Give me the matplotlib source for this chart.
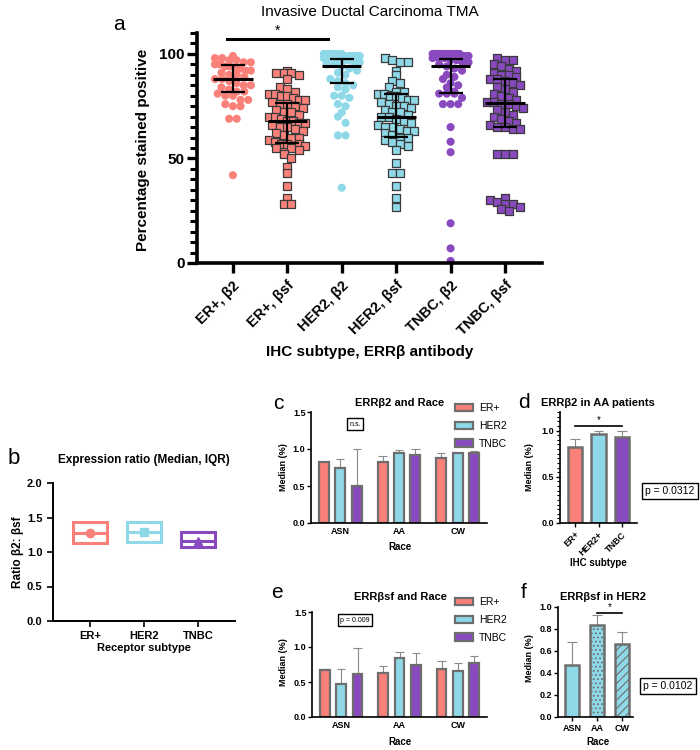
import numpy as np
import matplotlib
matplotlib.use('Agg')
import matplotlib.pyplot as plt
from matplotlib.ticker import MultipleLocator

plt.rcParams['font.family'] = ['Liberation Sans', 'DejaVu Sans']

# ---- panel a data (percentage stained positive) ----
groups_a = ['ER+, β2', 'ER+, βsf', 'HER2, β2', 'HER2, βsf', 'TNBC, β2', 'TNBC, βsf']
er_b2 = [99, 98, 98, 97, 97, 96, 96, 95, 95, 94, 94, 93, 93, 92, 92, 91, 90, 90, 89, 88,
         88, 87, 86, 85, 85, 84, 83, 82, 82, 81, 80, 80, 78, 78, 76, 75, 75, 69, 69, 42]
er_bsf = [92, 91, 91, 91, 90, 88, 84, 83, 82, 81, 81, 80, 80, 79, 78, 78, 77, 76, 76, 75,
          74, 73, 72, 72, 71, 70, 70, 69, 68, 68, 67, 67, 66, 65, 65, 64, 63, 62, 61, 60,
          60, 59, 58, 57, 57, 56, 57, 56, 55, 53, 55, 54, 52, 50, 46, 43, 37, 31, 28, 28]
her2_b2 = [100, 100, 100, 100, 100, 100, 99, 99, 99, 99, 99, 98, 98, 98, 97, 97, 97, 96, 96,
           95, 95, 94, 93, 92, 91, 90, 88, 87, 86, 85, 84, 83, 80, 80, 79, 76, 75, 72, 70,
           67, 61, 61, 36]
her2_bsf = [98, 97, 96, 96, 92, 90, 87, 86, 84, 82, 82, 81, 81, 80, 80, 79, 78, 78, 77, 76,
            75, 75, 74, 73, 72, 72, 71, 70, 70, 69, 68, 67, 66, 65, 65, 64, 63, 63, 62, 61,
            60, 60, 59, 58, 57, 56, 54, 48, 43, 43, 37, 31, 27]
tnbc_b2 = [100, 100, 100, 100, 100, 100, 100, 100, 100, 100, 99, 99, 99, 98, 98, 98, 97, 97,
           96, 96, 95, 94, 93, 92, 90, 89, 88, 86, 85, 84, 82, 81, 81, 81, 79, 76, 76, 76,
           65, 58, 53, 19, 7, 1]
tnbc_bsf = [98, 97, 97, 95, 94, 93, 92, 91, 90, 90, 89, 88, 88, 87, 86, 85, 84, 83, 82, 81,
            80, 79, 78, 77, 77, 76, 76, 75, 74, 73, 72, 71, 70, 69, 68, 67, 66, 65, 65, 64,
            64, 52, 52, 52, 31, 30, 29, 28, 28, 27, 26, 25]
med_a = [88, 68, 94, 70, 94, 76.5]
q1_a = [82, 57.5, 86, 60.5, 81.5, 65]
q3_a = [94.5, 76.5, 97.5, 81, 97.5, 88]

# ---- panel b data (ratio b2 : bsf) ----
ratio_cats = ['ER+', 'HER2', 'TNBC']
ratio_med = [1.27, 1.29, 1.16]
ratio_q1 = [1.13, 1.14, 1.07]
ratio_q3 = [1.43, 1.43, 1.29]

# ---- panels c / e data (median by race) ----
races = ['ASN', 'AA', 'CW']
subtypes = ['ER+', 'HER2', 'TNBC']
c_er, c_er_up = [0.82, 0.82, 0.88], [0.82, 0.91, 0.94]
c_her2, c_her2_up = [0.74, 0.95, 0.94], [0.87, 0.98, 0.95]
c_tnbc, c_tnbc_up = [0.50, 0.92, 0.94], [1.00, 1.00, 0.97]
e_er, e_er_up = [0.67, 0.63, 0.69], [0.68, 0.73, 0.80]
e_her2, e_her2_up = [0.47, 0.84, 0.66], [0.68, 0.93, 0.77]
e_tnbc, e_tnbc_up = [0.61, 0.75, 0.77], [0.98, 0.91, 0.87]

# ---- panel d / f data ----
d_cats = ['ER+', 'HER2+', 'TNBC']
d_vals, d_up = [0.82, 0.96, 0.93], [0.91, 0.99, 1.00]
f_cats = ['ASN', 'AA', 'CW']
f_vals, f_up = [0.47, 0.84, 0.66], [0.68, 0.93, 0.77]

RED = '#F9817A'
BLUE = '#8ED8E8'
PURP = '#8A4ABF'
GRAY = '#6e6e6e'

W, H = 700, 750
fig = plt.figure(figsize=(7, 7.5), dpi=100)


def add_ax(l, t, r, b):
    return fig.add_axes([l / W, 1 - b / H, (r - l) / W, (b - t) / H])


def ftext(x, y, s, **kw):
    return fig.text(x / W, 1 - y / H, s, **kw)


def swarm(vals, center, step, binw, maxw):
    v = np.asarray(vals, float)
    bins = np.round(v / binw)
    xs = np.empty_like(v)
    for b in np.unique(bins):
        idx = np.where(bins == b)[0]
        n = len(idx)
        s = min(step, maxw / (n - 1)) if n > 1 else step
        xs[idx] = center + (np.arange(n) - (n - 1) / 2) * s
    return xs


def style(ax, lw=1.2):
    for sp in ['top', 'right']:
        ax.spines[sp].set_visible(False)
    for sp in ['left', 'bottom']:
        ax.spines[sp].set_linewidth(lw)


# ================= panel a =================
ax = add_ax(197, 33, 542, 263)
style(ax, 2.6)
data_a = [er_b2, er_bsf, her2_b2, her2_bsf, tnbc_b2, tnbc_bsf]
cols_a = [RED, RED, BLUE, BLUE, PURP, PURP]
for i, vals in enumerate(data_a):
    xs = swarm(vals, i, 0.14, 3.6, 0.66)
    if i % 2 == 0:
        ax.scatter(xs, vals, s=34, color=cols_a[i], edgecolor='none', zorder=2)
    else:
        ax.scatter(xs, vals, s=40, marker='s', color=cols_a[i],
                   edgecolor='#3a3a3a', linewidth=0.9, zorder=2)
    ax.hlines(med_a[i], i - 0.36, i + 0.36, color='black', lw=2.2, zorder=3)
    ax.vlines(i, q1_a[i], q3_a[i], color='black', lw=1.6, zorder=3)
    ax.hlines([q1_a[i], q3_a[i]], i - 0.22, i + 0.22, color='black', lw=1.6, zorder=3)
ax.set_xlim(-0.66, 5.68)
ax.set_ylim(0, 110)
ax.yaxis.set_major_locator(MultipleLocator(50))
ax.yaxis.set_minor_locator(MultipleLocator(5))
ax.tick_params(axis='y', which='major', length=7, width=2.4, labelsize=11, pad=2)
ax.tick_params(axis='y', which='minor', length=5, width=2.2)
ax.tick_params(axis='x', length=7, width=2.4, labelsize=10.5, pad=4)
ax.set_xticks(range(6))
ax.set_xticklabels(groups_a, rotation=45, ha='right', rotation_mode='anchor', fontweight='bold')
for lab in ax.get_yticklabels():
    lab.set_fontweight('bold')
ax.plot([-0.1, 1.75], [107, 107], color='black', lw=2.2, clip_on=False)
ax.text(0.82, 107.5, '*', ha='center', va='bottom', fontsize=10)
ftext(370, 12, 'Invasive Ductal Carcinoma TMA', ha='center', va='center', fontsize=11)
ftext(119, 24, 'a', ha='center', va='center', fontsize=15)
ftext(143, 150, 'Percentage stained positive', rotation=90, ha='center', va='center',
      fontsize=11, fontweight='bold')
ftext(370, 352, 'IHC subtype, ERRβ antibody', ha='center', va='center', fontsize=11,
      fontweight='bold')

# ================= panel b =================
ax = add_ax(53, 483, 235, 621)
style(ax, 1.4)
cols_b = [RED, BLUE, PURP]
marks_b = ['o', 's', '^']
for i in range(3):
    ax.bar(i, ratio_q3[i] - ratio_q1[i], bottom=ratio_q1[i], width=0.64, fill=False,
           edgecolor=cols_b[i], linewidth=2.2)
    ax.hlines(ratio_med[i], i - 0.32, i + 0.32, color=cols_b[i], lw=2.2)
    ax.plot(i, ratio_med[i], marker=marks_b[i], color=cols_b[i], ms=6)
ax.set_xlim(-0.69, 2.69)
ax.set_ylim(0, 2.0)
ax.yaxis.set_major_locator(MultipleLocator(0.5))
ax.yaxis.set_major_formatter(plt.FormatStrFormatter('%.1f'))
ax.set_xticks(range(3))
ax.set_xticklabels(ratio_cats, fontweight='bold')
ax.tick_params(length=4, width=1.2, labelsize=8)
for lab in ax.get_yticklabels():
    lab.set_fontweight('bold')
ftext(144, 460, 'Expression ratio (Median, IQR)', ha='center', va='center', fontsize=8.5,
      fontweight='bold')
ftext(14, 459, 'b', ha='center', va='center', fontsize=16)
ftext(18, 552, 'Ratio β2: βsf', rotation=90, ha='center', va='center', fontsize=8.5,
      fontweight='bold')
ftext(144, 648, 'Receptor subtype', ha='center', va='center', fontsize=8, fontweight='bold')


# ================= panels c / e =================
def race_panel(ax, series, ups, title, ylab_y, xlab_y, title_y, leg_y):
    style(ax, 1.2)
    offs = [-0.28, 0, 0.28]
    cols = [RED, BLUE, PURP]
    x = np.arange(3)
    for j in range(3):
        ax.vlines(x + offs[j], series[j], ups[j], color='#8a8a8a', lw=0.8, zorder=1)
        ax.hlines(ups[j], x + offs[j] - 0.07, x + offs[j] + 0.07, color='#8a8a8a', lw=0.8,
                  zorder=1)
        ax.bar(x + offs[j], series[j], width=0.17, color=cols[j], edgecolor=GRAY,
               linewidth=1.6, label=subtypes[j], zorder=2)
    ax.set_xlim(-0.5, 2.5)
    ax.set_ylim(0, 1.5)
    ax.yaxis.set_major_locator(MultipleLocator(0.5))
    ax.yaxis.set_major_formatter(plt.FormatStrFormatter('%.1f'))
    ax.set_xticks(x)
    ax.set_xticklabels(races, fontweight='bold')
    ax.tick_params(axis='x', length=0, labelsize=6.5, pad=3)
    ax.tick_params(axis='y', length=3, width=1, labelsize=6.5, pad=1)
    for lab in ax.get_yticklabels():
        lab.set_fontweight('bold')
    ax.legend(loc='upper left', bbox_to_anchor=(455 / W, 1 - leg_y / H),
              bbox_transform=fig.transFigure, frameon=False, fontsize=7.5,
              handlelength=1.7, handleheight=0.7, labelspacing=0.75, borderaxespad=0,
              borderpad=0, handletextpad=0.6)
    ftext(400, title_y, title, ha='center', va='center', fontsize=8, fontweight='bold')
    ftext(284, ylab_y, 'Median (%)', rotation=90, ha='center', va='center', fontsize=6.5,
          fontweight='bold')
    ftext(400, xlab_y, 'Race', ha='center', va='center', fontsize=7, fontweight='bold')


ax = add_ax(311, 412, 487, 523)
race_panel(ax, [c_er, c_her2, c_tnbc], [c_er_up, c_her2_up, c_tnbc_up], 'ERRβ2 and Race',
           467, 547, 403, 403)
ftext(278, 404, 'c', ha='center', va='center', fontsize=15)
ftext(355, 424, 'n.s.', ha='center', va='center', fontsize=5,
      bbox=dict(boxstyle='square,pad=0.35', fc='white', ec='black', lw=1))

ax = add_ax(312, 612, 487, 717)
race_panel(ax, [e_er, e_her2, e_tnbc], [e_er_up, e_her2_up, e_tnbc_up], 'ERRβsf and Race',
           662, 742, 597, 597)
ftext(277, 593, 'e', ha='center', va='center', fontsize=15)
ftext(355, 620, 'p = 0.009', ha='center', va='center', fontsize=5,
      bbox=dict(boxstyle='square,pad=0.35', fc='white', ec='black', lw=1))

# ================= panel d =================
ax = add_ax(560, 412, 637, 523)
style(ax, 1.2)
x = np.arange(3)
ax.vlines(x, d_vals, d_up, color='#8a8a8a', lw=0.8, zorder=1)
ax.hlines(d_up, x - 0.2, x + 0.2, color='#8a8a8a', lw=0.8, zorder=1)
ax.bar(x, d_vals, width=0.6, color=[RED, BLUE, PURP], edgecolor=GRAY, linewidth=1.8, zorder=2)
ax.set_xlim(-0.64, 2.64)
ax.set_ylim(0, 1.2)
ax.yaxis.set_major_locator(MultipleLocator(0.5))
ax.yaxis.set_minor_locator(MultipleLocator(0.05))
ax.yaxis.set_major_formatter(plt.FormatStrFormatter('%.1f'))
ax.set_xticks(x)
ax.set_xticklabels(d_cats, rotation=45, ha='right', rotation_mode='anchor', fontweight='bold')
ax.tick_params(axis='x', length=3, width=1, labelsize=6.5, pad=2)
ax.tick_params(axis='y', which='major', length=3, width=1, labelsize=6.5, pad=1)
ax.tick_params(axis='y', which='minor', length=2, width=0.8)
for lab in ax.get_yticklabels():
    lab.set_fontweight('bold')
ax.plot([0, 2], [1.05, 1.05], color='black', lw=1.2, clip_on=False)
ax.text(1, 1.06, '*', ha='center', va='bottom', fontsize=7)
ftext(598, 403, 'ERRβ2 in AA patients', ha='center', va='center', fontsize=8,
      fontweight='bold')
ftext(524, 402, 'd', ha='center', va='center', fontsize=15)
ftext(530, 467, 'Median (%)', rotation=90, ha='center', va='center', fontsize=6.5,
      fontweight='bold')
ftext(598, 563, 'IHC subtype', ha='center', va='center', fontsize=7, fontweight='bold')
ftext(670, 491, 'p = 0.0312', ha='center', va='center', fontsize=7.5,
      bbox=dict(boxstyle='square,pad=0.3', fc='white', ec='black', lw=1))

# ================= panel f =================
ax = add_ax(558, 607, 633, 717)
style(ax, 1.2)
plt.rcParams['hatch.linewidth'] = 0.8
ax.vlines(x, f_vals, f_up, color='#8a8a8a', lw=0.8, zorder=1)
ax.hlines(f_up, x - 0.2, x + 0.2, color='#8a8a8a', lw=0.8, zorder=1)
bars = ax.bar(x, f_vals, width=0.56, color=BLUE, edgecolor=GRAY, linewidth=1.8, zorder=2)
bars[1].set_hatch('....')
bars[2].set_hatch('////')
ax.set_xlim(-0.56, 2.44)
ax.set_ylim(0, 1.0)
ax.yaxis.set_major_locator(MultipleLocator(0.2))
ax.yaxis.set_major_formatter(plt.FormatStrFormatter('%.1f'))
ax.set_xticks(x)
ax.set_xticklabels(f_cats, fontweight='bold')
ax.tick_params(axis='x', length=3, width=1, labelsize=6.5, pad=2)
ax.tick_params(axis='y', length=3, width=1, labelsize=6.5, pad=1)
for lab in ax.get_yticklabels():
    lab.set_fontweight('bold')
ax.plot([1, 2], [0.945, 0.945], color='black', lw=1.2, clip_on=False)
ax.text(1.5, 0.955, '*', ha='center', va='bottom', fontsize=7)
ftext(603, 597, 'ERRβsf in HER2', ha='center', va='center', fontsize=8, fontweight='bold')
ftext(524, 592, 'f', ha='center', va='center', fontsize=15)
ftext(530, 658, 'Median (%)', rotation=90, ha='center', va='center', fontsize=6.5,
      fontweight='bold')
ftext(598, 742, 'Race', ha='center', va='center', fontsize=7, fontweight='bold')
ftext(668, 686, 'p = 0.0102', ha='center', va='center', fontsize=7.5,
      bbox=dict(boxstyle='square,pad=0.3', fc='white', ec='black', lw=1))

fig.savefig('out.png', dpi=100)
